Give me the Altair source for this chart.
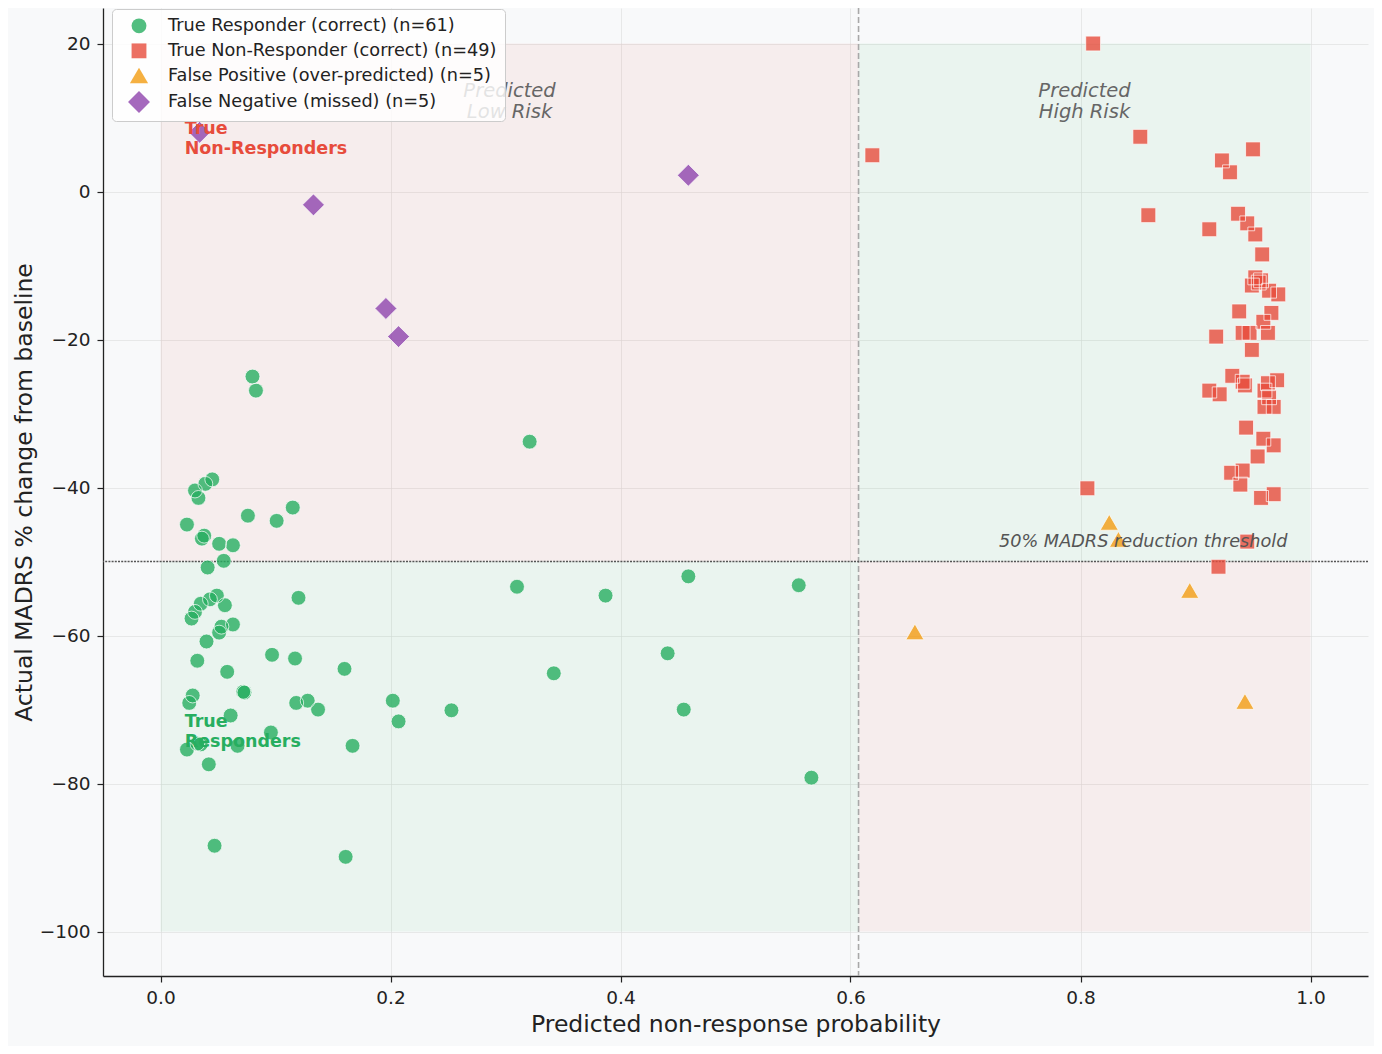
import altair as alt
import pandas as pd

# ---- data ----
categories = [
    "True Responder (correct) (n=61)",
    "True Non-Responder (correct) (n=49)",
    "False Positive (over-predicted) (n=5)",
    "False Negative (missed) (n=5)",
]
cat_colors = ["#27ae60", "#e74c3c", "#f39c12", "#8e44ad"]
cat_shapes = ["circle", "square", "triangle-up", "diamond"]
cat_sizes = [220, 220, 330, 480]

tr_x = [0.080, 0.083, 0.321, 0.045, 0.039, 0.030, 0.033, 0.115, 0.076, 0.101, 0.023, 0.038, 0.036, 0.051,
        0.063, 0.055, 0.041, 0.459, 0.310, 0.555, 0.387, 0.120, 0.049, 0.043, 0.035, 0.056, 0.030, 0.027,
        0.053, 0.063, 0.051, 0.040, 0.441, 0.097, 0.117, 0.032, 0.160, 0.058, 0.342, 0.072, 0.073, 0.028,
        0.025, 0.202, 0.128, 0.118, 0.137, 0.253, 0.455, 0.061, 0.207, 0.096, 0.032, 0.035, 0.067, 0.167,
        0.023, 0.042, 0.566, 0.047, 0.161]
tr_y = [-25.0, -26.9, -33.8, -38.9, -39.5, -40.4, -41.4, -42.7, -43.8, -44.5, -45.0, -46.5, -46.9, -47.6,
        -47.8, -49.9, -50.8, -52.0, -53.4, -53.2, -54.6, -54.9, -54.6, -55.1, -55.7, -55.9, -56.8, -57.7,
        -58.8, -58.5, -59.6, -60.8, -62.4, -62.6, -63.1, -63.4, -64.5, -64.9, -65.1, -67.6, -67.7, -68.1,
        -69.1, -68.8, -68.8, -69.1, -70.0, -70.1, -70.0, -70.8, -71.6, -73.1, -74.6, -74.7, -74.9, -74.9,
        -75.4, -77.4, -79.2, -88.4, -89.9]

nr_x = [0.811, 0.619, 0.852, 0.950, 0.923, 0.930, 0.859, 0.937, 0.945, 0.912, 0.952, 0.958, 0.952, 0.955,
        0.949, 0.964, 0.972, 0.938, 0.966, 0.959, 0.947, 0.941, 0.963, 0.918, 0.949, 0.932, 0.941, 0.943,
        0.963, 0.971, 0.912, 0.921, 0.960, 0.964, 0.960, 0.968, 0.944, 0.959, 0.968, 0.954, 0.941, 0.931,
        0.939, 0.806, 0.957, 0.968, 0.945, 0.920, 0.957]
nr_y = [20.0, 4.9, 7.4, 5.7, 4.2, 2.6, -3.2, -3.0, -4.3, -5.1, -5.8, -8.5, -11.6, -12.3,
        -12.7, -13.4, -13.9, -16.2, -16.4, -17.6, -19.1, -19.1, -19.1, -19.6, -21.4, -24.9, -25.7, -26.2,
        -25.9, -25.5, -26.9, -27.4, -26.9, -27.8, -29.1, -29.1, -31.9, -33.4, -34.3, -35.8, -37.7, -38.0,
        -39.6, -40.1, -41.4, -40.9, -47.3, -50.7, -12.0]

fp_x = [0.656, 0.825, 0.833, 0.895, 0.943]
fp_y = [-59.5, -44.7, -47.0, -53.9, -68.9]

fn_x = [0.034, 0.133, 0.459, 0.196, 0.207]
fn_y = [8.0, -1.8, 2.2, -15.8, -19.6]

threshold_prob = 0.607
response_cut = -50

x_ticks = [0.0, 0.2, 0.4, 0.6, 0.8, 1.0]
y_ticks = [-100, -80, -60, -40, -20, 0, 20]

# ---- tables ----
rows = []
for cat, xs, ys in zip(categories, [tr_x, nr_x, fp_x, fn_x], [tr_y, nr_y, fp_y, fn_y]):
    for a, b in zip(xs, ys):
        rows.append({"prob": a, "change": b, "group": cat})
points = pd.DataFrame(rows)

RED_SHADE = "rgba(231,76,60,0.065)"
GREEN_SHADE = "rgba(39,174,96,0.065)"
regions = pd.DataFrame({
    "x0": [0.0, 0.0, threshold_prob, threshold_prob],
    "x1": [threshold_prob, threshold_prob, 1.0, 1.0],
    "y0": [response_cut, -100, response_cut, -100],
    "y1": [20, response_cut, 20, response_cut],
    "col": [RED_SHADE, GREEN_SHADE, GREEN_SHADE, RED_SHADE],
})

FONT = "DejaVu Sans"
xscale = alt.Scale(domain=[-0.05, 1.05], nice=False, zero=False)
yscale = alt.Scale(domain=[-106, 24.8], nice=False, zero=False)

xaxis = alt.Axis(values=x_ticks, format=".1f", title="Predicted non-response probability",
                 grid=True, gridColor="#dcdcdc", gridOpacity=0.6,
                 domainColor="#222222", domainWidth=1.3, tickColor="#222222", tickWidth=1.2, tickSize=6,
                 labelFontSize=18.5, labelColor="#222222", labelFont=FONT, labelPadding=6,
                 titleFontSize=23.5, titleFont=FONT, titleFontWeight="normal", titleColor="#222222",
                 titlePadding=6)
yaxis = alt.Axis(values=y_ticks, title="Actual MADRS % change from baseline",
                 labelExpr="replace(datum.label, '-', '\u2212')",
                 grid=True, gridColor="#dcdcdc", gridOpacity=0.6,
                 domainColor="#222222", domainWidth=1.3, tickColor="#222222", tickWidth=1.2, tickSize=6,
                 labelFontSize=18.5, labelColor="#222222", labelFont=FONT, labelPadding=7,
                 titleFontSize=23.5, titleFont=FONT, titleFontWeight="normal", titleColor="#222222",
                 titlePadding=3)

rects = alt.Chart(regions).mark_rect().encode(
    x=alt.X("x0:Q", scale=xscale, axis=xaxis),
    x2="x1:Q",
    y=alt.Y("y0:Q", scale=yscale, axis=yaxis),
    y2="y1:Q",
    fill=alt.Fill("col:N", scale=None),
)

vline = alt.Chart(pd.DataFrame({"v": [threshold_prob]})).mark_rule(
    color="#a8a8a8", strokeWidth=1.6, strokeDash=[6, 3]
).encode(x=alt.X("v:Q", scale=xscale))

hline = alt.Chart(pd.DataFrame({"h": [response_cut]})).mark_rule(
    color="#555555", strokeWidth=1.4, strokeDash=[2, 1.2]
).encode(y=alt.Y("h:Q", scale=yscale))

legend = alt.Legend(
    title=None, orient="none", legendX=9, legendY=1,
    fillColor="rgba(255,255,255,0.82)", strokeColor="#cccccc", cornerRadius=4, padding=8,
    labelFontSize=17.7, labelFont=FONT, labelColor="#222222", labelOffset=18, labelLimit=0,
    rowPadding=6, symbolSize=280, symbolOffset=8, symbolStrokeWidth=0, symbolOpacity=0.8,
)

pts = alt.Chart(points).mark_point(filled=True, opacity=0.8).encode(
    x=alt.X("prob:Q", scale=xscale),
    y=alt.Y("change:Q", scale=yscale),
    color=alt.Color("group:N", scale=alt.Scale(domain=categories, range=cat_colors), legend=legend),
    shape=alt.Shape("group:N", scale=alt.Scale(domain=categories, range=cat_shapes), legend=legend),
    size=alt.Size("group:N", scale=alt.Scale(type="ordinal", domain=categories, range=cat_sizes),
                  legend=None),
)

# thin white outline on every marker, as in the reference
edges = alt.Chart(points).mark_point(filled=False, stroke="white", strokeWidth=0.8, opacity=0.9).encode(
    x=alt.X("prob:Q", scale=xscale),
    y=alt.Y("change:Q", scale=yscale),
    shape=alt.Shape("group:N", scale=alt.Scale(domain=categories, range=cat_shapes), legend=None),
    size=alt.Size("group:N", scale=alt.Scale(type="ordinal", domain=categories, range=cat_sizes),
                  legend=None),
)

pred_txt = pd.DataFrame({"x": [threshold_prob / 2, (threshold_prob + 1) / 2], "y": [13.6, 13.6],
                         "t": ["Predicted\nLow Risk", "Predicted\nHigh Risk"]})
pred = alt.Chart(pred_txt).mark_text(
    font=FONT, fontSize=19.5, fontStyle="italic", color="#666666", align="center", baseline="middle",
    lineBreak="\n", lineHeight=21
).encode(x=alt.X("x:Q", scale=xscale), y=alt.Y("y:Q", scale=yscale), text="t:N")

thr_txt = alt.Chart(pd.DataFrame({"x": [0.98], "y": [-47.4], "t": ["50% MADRS reduction threshold"]})).mark_text(
    font=FONT, fontSize=17.7, fontStyle="italic", color="#555555", align="right", baseline="middle"
).encode(x=alt.X("x:Q", scale=xscale), y=alt.Y("y:Q", scale=yscale), text="t:N")

nonresp_txt = alt.Chart(pd.DataFrame({"x": [0.021], "y": [8.45], "t": ["True\nNon-Responders"]})).mark_text(
    font=FONT, fontSize=17.5, fontWeight="bold", color="#e74c3c", align="left", baseline="middle",
    lineBreak="\n", lineHeight=20
).encode(x=alt.X("x:Q", scale=xscale), y=alt.Y("y:Q", scale=yscale), text="t:N")

resp_txt = alt.Chart(pd.DataFrame({"x": [0.021], "y": [-71.7], "t": ["True\nResponders"]})).mark_text(
    font=FONT, fontSize=17.5, fontWeight="bold", color="#27ae60", align="left", baseline="middle",
    lineBreak="\n", lineHeight=20
).encode(x=alt.X("x:Q", scale=xscale), y=alt.Y("y:Q", scale=yscale), text="t:N")

chart = alt.layer(rects, pred, vline, hline, pts, edges, thr_txt, nonresp_txt, resp_txt).properties(
    width=1265, height=968,
    autosize=alt.AutoSizeParams(type="none"),
    padding={"left": 95, "top": 0, "right": 6, "bottom": 70},
    background="#f8f9fa",
).configure_view(stroke=None, fill="#f8f9fa")

chart.save("out.html", embed_options={"renderer": "svg", "actions": False})
